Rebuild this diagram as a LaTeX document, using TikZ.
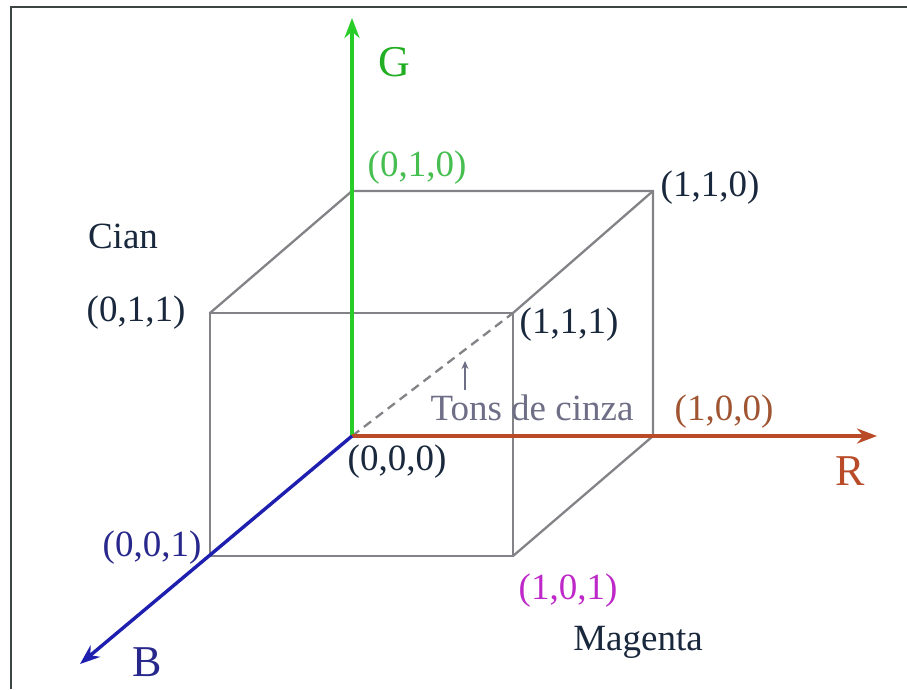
\documentclass[tikz,border=0pt]{standalone}
\usepackage{fontspec}
\setmainfont{Liberation Serif}
\usetikzlibrary{arrows.meta}
\definecolor{frameC}{RGB}{60,68,68}
\definecolor{edgeC}{RGB}{130,130,135}
\definecolor{gC}{RGB}{40,205,40}
\definecolor{gT}{RGB}{70,190,80}
\definecolor{rC}{RGB}{185,75,40}
\definecolor{rT}{RGB}{160,85,50}
\definecolor{bC}{RGB}{30,30,175}
\definecolor{bT}{RGB}{40,40,140}
\definecolor{txtC}{RGB}{25,40,60}
\definecolor{grayT}{RGB}{110,110,135}
\definecolor{magT}{RGB}{190,40,200}
\tikzset{
  lbl/.style={inner sep=0pt, font=\fontsize{37}{40}\selectfont},
  axlbl/.style={inner sep=0pt, font=\fontsize{44}{46}\selectfont},
  edge/.style={draw=edgeC, line width=2.3pt},
  axis/.style={line width=3.4pt, -{Stealth[length=20pt,width=15pt]}}
}
\begin{document}
\begin{tikzpicture}[x=1pt,y=-1pt]
\useasboundingbox (0,0) rectangle (907,689);
\fill[white] (0,0) rectangle (907,689);
% frame
\draw[frameC, line width=2.8pt] (11,689) -- (11,7) -- (907,7);
% cube points
\coordinate (O) at (352,436);
\coordinate (P010) at (352,191);
\coordinate (P110) at (653,191);
\coordinate (P100) at (653,436);
\coordinate (P011) at (210,313);
\coordinate (P111) at (513,313);
\coordinate (P001) at (210,556);
\coordinate (P101) at (513,556);
\coordinate (Gend) at (352,18);
\coordinate (Rend) at (877,436);
\coordinate (Bend) at (80,664);
% cube edges
\draw[edge] (P011) rectangle (P101);
\draw[edge] (P011) -- (P010) -- (P110) -- (P100);
\draw[edge] (P111) -- (P110);
\draw[edge] (P101) -- (P100);
\draw[edge, dashed, dash pattern=on 9pt off 6pt] (O) -- (P111);
% axes
\draw[axis, gC] (O) -- (Gend);
\draw[axis, rC] (O) -- (Rend);
\draw[axis, bC] (O) -- (Bend);
% labels
\node[axlbl, text=gC!85!black] (G) at (394,62) {G};
\node[axlbl, text=rC] (R) at (850,471) {R};
\node[axlbl, text=bT] (B) at (147,662) {B};
\node[lbl, text=gT] (l010) at (417,168) {(0,1,0)};
\node[lbl, text=txtC] (l110) at (710,188) {(1,1,0)};
\node[lbl, text=txtC] (cian) at (123,236) {Cian};
\node[lbl, text=txtC] (l011) at (136,313) {(0,1,1)};
\node[lbl, text=txtC] (l111) at (569,325) {(1,1,1)};
\node[lbl, text=grayT] (tons) at (532,408) {Tons de cinza};
\node[lbl, text=rT] (l100) at (724,412) {(1,0,0)};
\node[lbl, text=txtC] (l000) at (397,462) {(0,0,0)};
\node[lbl, text=bT] (l001) at (152,548) {(0,0,1)};
\node[lbl, text=magT] (l101) at (568,591) {(1,0,1)};
\node[lbl, text=txtC] (mag) at (638,642) {Magenta};
% small arrow
\coordinate (sa1) at (465,390);
\coordinate (sa2) at (465,361);
\draw[grayT, line width=2.2pt, -{Stealth[length=8pt,width=7pt]}] (sa1) -- (sa2);
\end{tikzpicture}
\end{document}
